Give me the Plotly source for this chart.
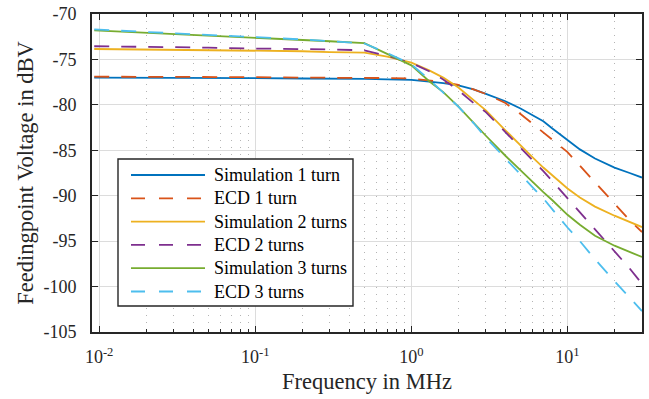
import plotly.graph_objects as go

# ---------------- data ----------------
freq_mhz = [0.0093, 0.02, 0.05, 0.1, 0.2, 0.3, 0.5, 0.7, 1, 1.3, 1.6, 2, 2.5, 3,
            4, 5, 6, 7, 8, 10, 12, 15, 20, 25, 30]

sim_1_turn = [-77.0, -77.0, -77.05, -77.05, -77.1, -77.1, -77.15, -77.2, -77.25, -77.45,
              -77.6, -77.85, -78.3, -78.8, -79.6, -80.4, -81.2, -81.8, -82.6, -83.9,
              -84.9, -85.9, -86.9, -87.5, -88.0]
ecd_1_turn = [-76.9, -76.9, -76.95, -76.95, -77.0, -77.0, -77.05, -77.05, -77.1, -77.3,
              -77.5, -77.8, -78.3, -78.8, -79.8, -81.0, -82.1, -83.0, -83.8, -85.2,
              -86.7, -88.5, -90.9, -92.7, -94.0]
sim_2_turns = [-73.85, -73.9, -73.95, -74.0, -74.1, -74.2, -74.25, -74.7, -75.35, -76.2,
               -77.0, -78.1, -79.5, -80.6, -82.8, -84.5, -85.8, -86.9, -87.8, -89.2,
               -90.2, -91.2, -92.2, -92.9, -93.45]
ecd_2_turns = [-73.55, -73.6, -73.7, -73.8, -73.85, -73.9, -74.0, -74.6, -75.4, -76.3,
               -77.2, -78.4, -79.8, -80.8, -83.0, -84.7, -86.2, -87.3, -88.4, -90.3,
               -91.8, -93.7, -96.1, -98.0, -99.7]
sim_3_turns = [-71.8, -72.05, -72.35, -72.6, -72.85, -73.0, -73.2, -74.4, -75.65, -77.4,
               -78.6, -80.2, -81.9, -83.4, -85.6, -87.2, -88.6, -89.6, -90.5, -92.1,
               -93.2, -94.4, -95.5, -96.2, -96.75]
ecd_3_turns = [-71.7, -71.95, -72.3, -72.55, -72.8, -73.0, -73.25, -74.3, -75.55, -77.2,
               -78.6, -80.2, -82.0, -83.6, -85.9, -87.6, -89.1, -90.3, -91.5, -93.5,
               -95.0, -97.0, -99.4, -101.2, -102.7]

series_names = ["Simulation 1 turn", "ECD 1 turn", "Simulation 2 turns",
                "ECD 2 turns", "Simulation 3 turns", "ECD 3 turns"]
series_values = [sim_1_turn, ecd_1_turn, sim_2_turns, ecd_2_turns, sim_3_turns, ecd_3_turns]
series_colors = ["#0072BD", "#D95319", "#EDB120", "#7E2F8E", "#77AC30", "#4DBEEE"]
series_dashes = ["solid", "15px,12px", "solid", "15px,12px", "solid", "15px,12px"]

x_tick_vals = [0.01, 0.1, 1, 10]
x_tick_text = ["10<sup>-2</sup>", "10<sup>-1</sup>", "10<sup>0</sup>", "10<sup>1</sup>"]
x_minor_vals = [m * d for d in (0.01, 0.1, 1, 10) for m in range(2, 10) if m * d <= 30]
y_tick_vals = [-105, -100, -95, -90, -85, -80, -75, -70]
y_tick_text = ["-105", "-100", "-95", "-90", "-85", "-80", "-75", "-70"]

x_title = "Frequency in MHz"
y_title = "Feedingpoint Voltage in dBV"

# ---------------- figure ----------------
W, H = 649, 399
ML, MR, MT, MB = 92, 7, 14, 67
PW, PH = W - ML - MR, H - MT - MB
FONT = "Times New Roman, Liberation Serif, DejaVu Serif, serif"
AX = "#262626"

fig = go.Figure()
for name, vals, col, dash in zip(series_names, series_values, series_colors, series_dashes):
    fig.add_trace(go.Scatter(x=freq_mhz, y=vals, mode="lines", name=name,
                             line=dict(color=col, width=1.8, dash=dash),
                             showlegend=False))

fig.update_layout(
    width=W, height=H,
    margin=dict(l=ML, r=MR, t=MT, b=MB, autoexpand=False),
    paper_bgcolor="white", plot_bgcolor="white",
    font=dict(family=FONT, color=AX, size=18),
)
fig.update_xaxes(
    type="log", range=[-2.0458, 1.4771], automargin=False,
    tickmode="array", tickvals=x_tick_vals, ticktext=x_tick_text,
    ticks="inside", ticklen=6, tickwidth=1.2, tickcolor=AX,
    showline=True, linecolor=AX, linewidth=1.6, mirror="ticks",
    showgrid=True, gridcolor="#dcdcdc", gridwidth=1,
    zeroline=False, ticklabeloverflow="allow",
    tickfont=dict(size=18, family=FONT, color=AX),
    ticklabelstandoff=8,
    minor=dict(tickmode="array", tickvals=x_minor_vals, ticks="inside", ticklen=3,
               tickcolor=AX, tickwidth=1, showgrid=True, gridcolor="#b4b4b4",
               gridwidth=1, griddash="1px,6px"),
    title=dict(text=x_title, font=dict(size=22.5, family=FONT, color=AX), standoff=7),
)
fig.update_yaxes(
    range=[-105, -70], automargin=False,
    tickmode="array", tickvals=y_tick_vals, ticktext=y_tick_text,
    ticks="inside", ticklen=6, tickwidth=1.2, tickcolor=AX,
    showline=True, linecolor=AX, linewidth=1.6, mirror="ticks",
    showgrid=True, gridcolor="#dcdcdc", gridwidth=1,
    zeroline=False, ticklabeloverflow="allow",
    tickfont=dict(size=18, family=FONT, color=AX),
    ticklabelstandoff=10,
    title=dict(text=y_title, font=dict(size=22.5, family=FONT, color=AX), standoff=4),
)

# ---------------- legend box (window pixels -> paper coords) ----------------
def px_x(p):
    return (p - ML) / PW

def px_y(p):
    return (H - MB - p) / PH

box_l, box_r, box_t, box_b = 118, 353, 159, 306
row0, row_step = 175, 23.3
fig.add_shape(type="rect", xref="paper", yref="paper",
              x0=px_x(box_l), x1=px_x(box_r), y0=px_y(box_b), y1=px_y(box_t),
              line=dict(color=AX, width=1.4), fillcolor="white", layer="above")
for i, (name, col, dash) in enumerate(zip(series_names, series_colors, series_dashes)):
    yy = px_y(row0 + i * row_step)
    fig.add_shape(type="line", xref="paper", yref="paper",
                  x0=px_x(131), x1=px_x(205), y0=yy, y1=yy,
                  line=dict(color=col, width=1.8, dash="14px,14px" if dash != "solid" else dash),
                  layer="above")
    fig.add_annotation(text=name, xref="paper", yref="paper", x=px_x(212), y=yy,
                       xanchor="left", yanchor="middle", showarrow=False,
                       font=dict(size=18, family=FONT, color="black"))

# remove the default 8px page margin so the figure fills the window exactly
fig.write_html("out.html",
               config={"displayModeBar": False},
               post_script="document.body.style.margin='0px';document.body.style.overflow='hidden';")
